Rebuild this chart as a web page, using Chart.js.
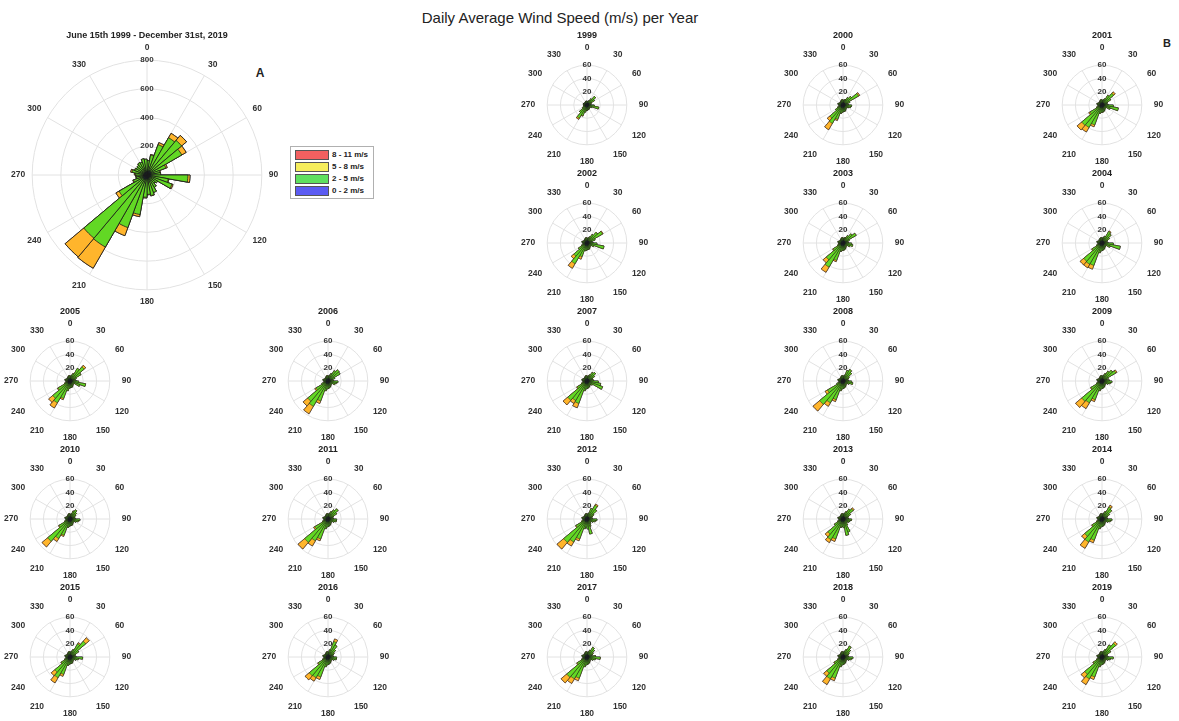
<!DOCTYPE html>
<html>
<head>
<meta charset="utf-8">
<script src="https://cdn.jsdelivr.net/npm/chart.js@4.4.1/dist/chart.umd.min.js"></script>
<style>
body { margin: 0; background: #fff; width: 1179px; height: 721px; position: relative; overflow: hidden; font-family: 'Liberation Sans', Arial, sans-serif; color: #222; }
canvas.rose { position: absolute; }
.ttl { position: absolute; font-weight: bold; font-size: 9px; transform: translate(-50%, -50%); white-space: nowrap; }
#mainTitle { position: absolute; left: 560px; top: 17px; transform: translate(-50%, -50%); font-size: 15px; white-space: nowrap; }
.tag { position: absolute; font-weight: bold; font-size: 12px; transform: translate(-50%, -50%); }
#legend { position: absolute; left: 290px; top: 146px; width: 82px; height: 51px; border: 1px solid #b0b0b0; background: #fff; }
#legend div { position: absolute; left: 4px; font-size: 8px; font-weight: bold; line-height: 9px; white-space: nowrap; }
#legend span { display: inline-block; width: 32px; height: 8px; border: 1px solid #555; margin-right: 3px; vertical-align: middle; }
</style>
</head>
<body>
<div id="mainTitle">Daily Average Wind Speed (m/s) per Year</div>
<div class="tag" style="left:260px; top:73px;">A</div>
<div class="tag" style="left:1167px; top:43px; font-size:11px;">B</div>
<div id="legend"></div>
<script>
// 风向区间（每10度一个扇区）
const directions = [0, 10, 20, 30, 40, 50, 60, 70, 80, 90, 100, 110, 120, 130, 140, 150, 160, 170,
    180, 190, 200, 210, 220, 230, 240, 250, 260, 270, 280, 290, 300, 310, 320, 330, 340, 350];

// 第一个是汇总图，其余是每年
const years = ['June 15th 1999 - December 31st, 2019', '1999', '2000', '2001', '2002', '2003', '2004',
    '2005', '2006', '2007', '2008', '2009', '2010', '2011', '2012', '2013', '2014',
    '2015', '2016', '2017', '2018', '2019'];

const speedClasses = ['0 - 2 m/s', '2 - 5 m/s', '5 - 8 m/s', '8 - 11 m/s'];

// 0 - 2 m/s
const calm = [
    [20,20,25,30,30,30, 25,20,20,25,25,25, 20,20,20,20,25,25, 25,25,30,30,30,30, 25,20,20,20,20,20, 20,20,20,20,20,20],
    [2,2,2,3,3,3, 2,2,2,3,3,2, 2,2,2,2,2,2, 2,3,3,3,3,2, 2,2,2,2,2,2, 2,2,2,2,2,2],
    [3,3,3,3,3,3, 3,2,3,3,3,3, 2,2,3,3,3,3, 3,3,4,4,4,3, 3,2,2,3,3,2, 2,2,2,3,3,3],
    [3,3,3,3,3,3, 3,3,3,3,3,3, 2,2,3,3,3,3, 3,3,4,4,4,3, 3,2,2,3,3,2, 2,2,2,3,3,3],
    [3,3,3,3,3,3, 3,2,3,3,3,3, 2,2,3,3,3,3, 3,3,4,4,4,3, 3,2,2,3,3,2, 2,2,2,3,3,3],
    [3,3,3,3,4,3, 3,2,3,3,3,3, 2,2,3,3,3,3, 3,3,4,4,4,3, 3,3,2,3,3,2, 2,2,2,3,3,3],
    [3,3,3,3,3,3, 3,2,3,3,3,3, 2,3,3,3,3,3, 3,3,4,4,4,3, 3,2,2,3,3,2, 2,2,3,3,3,3],
    [3,3,3,3,3,3, 3,2,3,3,3,3, 2,2,3,3,3,3, 3,3,4,4,4,3, 3,2,2,3,3,2, 2,2,2,3,3,3],
    [3,3,3,4,3,3, 3,2,3,3,3,3, 2,2,3,3,3,3, 3,3,4,4,4,3, 3,2,2,3,3,2, 2,2,2,3,3,3],
    [3,3,3,3,3,3, 3,3,3,3,3,3, 2,2,3,3,3,3, 3,3,4,4,4,3, 3,2,2,3,3,3, 2,2,2,3,3,3],
    [3,3,3,3,3,3, 3,2,3,3,3,3, 2,2,3,3,3,3, 3,3,4,4,4,3, 3,2,2,3,3,2, 2,2,2,3,3,3],
    [3,3,3,3,3,3, 3,2,3,3,3,3, 2,2,3,3,3,3, 3,3,4,4,4,3, 3,2,2,3,3,2, 2,2,2,3,3,3],
    [3,3,3,3,3,3, 3,2,3,3,3,3, 2,2,3,3,3,3, 3,3,4,4,4,3, 3,2,2,3,3,2, 2,2,2,3,3,3],
    [3,3,3,3,3,3, 3,2,3,3,3,3, 2,2,3,3,3,3, 3,3,4,4,4,3, 3,2,2,3,3,2, 2,2,2,3,3,3],
    [3,3,3,3,3,3, 3,2,3,3,3,3, 2,2,3,3,3,3, 3,3,4,4,4,3, 3,2,2,3,3,2, 2,2,2,3,3,3],
    [3,3,3,3,3,3, 3,2,3,3,3,3, 2,2,3,3,3,3, 3,3,4,4,4,3, 3,2,2,3,3,2, 2,2,2,3,3,3],
    [3,3,3,3,3,3, 3,2,3,3,3,3, 2,2,3,3,3,3, 3,3,4,4,4,3, 3,2,2,3,3,2, 2,2,2,3,3,3],
    [3,3,3,3,3,3, 3,2,3,3,3,3, 2,2,3,3,3,3, 3,3,4,4,4,3, 3,2,2,3,3,2, 2,2,2,3,3,3],
    [3,3,3,3,3,3, 3,2,3,3,3,3, 2,2,3,3,3,3, 3,3,4,4,4,3, 3,2,2,3,3,2, 2,2,2,3,3,3],
    [3,3,3,3,3,3, 3,2,3,3,3,3, 2,2,3,3,3,3, 3,3,4,4,4,3, 3,2,2,3,3,2, 2,2,2,3,3,3],
    [3,3,3,3,3,3, 3,2,3,3,3,3, 2,2,3,3,3,3, 3,3,4,4,4,3, 3,2,2,3,3,2, 2,2,2,3,3,3],
    [3,3,3,3,3,3, 3,2,3,3,3,3, 2,2,3,3,3,3, 3,3,4,4,4,3, 3,2,2,3,3,2, 2,2,2,3,3,3]
];

// 2 - 5 m/s
const light = [
    [80,120,200,270,285,250, 115,70,75,260,125,160, 65,55,80,110,120,110, 130,255,360,550,545,195, 75,55,55,60,85,70, 65,70,80,75,95,90],
    [3,4,5,8,14,10, 5,3,4,8,15,6, 4,3,4,5,5,6, 6,8,14,20,12,6, 4,3,3,3,4,3, 3,2,3,3,4,4],
    [4,5,6,10,14,24, 8,4,5,10,9,6, 5,4,5,6,7,7, 8,10,19,28,22,10, 6,4,4,4,5,4, 4,3,4,4,5,5],
    [4,5,7,14,20,12, 6,4,6,14,22,10, 5,4,5,6,7,8, 8,10,28,35,36,18, 6,4,4,4,5,4, 4,3,4,4,5,5],
    [4,5,7,12,18,24, 10,5,6,12,23,8, 5,4,5,6,7,7, 8,9,18,32,22,12, 6,4,4,4,5,4, 4,3,4,4,5,5],
    [4,5,6,10,14,20, 7,4,5,10,12,8, 5,4,5,6,7,8, 8,10,24,38,29,14, 6,4,4,4,5,4, 4,3,4,4,5,5],
    [4,6,8,17,15,10, 6,4,6,14,25,10, 5,4,5,6,7,8, 9,12,32,33,32,14, 6,4,4,4,5,4, 4,3,4,4,5,5],
    [4,6,9,19,25,16, 7,4,6,10,21,13, 5,4,5,6,7,7, 8,12,24,34,30,18, 6,4,4,4,5,4, 4,3,4,4,5,5],
    [4,6,9,14,19,18, 8,4,5,12,10,8, 5,4,5,6,7,8, 9,12,28,40,36,18, 7,4,4,4,5,4, 4,3,4,4,5,5],
    [4,5,7,12,14,10, 6,5,7,14,18,22, 8,5,5,6,7,8, 9,12,32,30,34,14, 6,4,4,4,5,4, 4,3,4,4,5,5],
    [4,6,14,17,14,8, 6,4,5,10,12,7, 5,4,5,6,7,8, 9,12,26,34,42,24, 7,4,4,4,5,4, 4,3,4,4,5,5],
    [4,6,9,14,18,21, 7,5,8,12,10,7, 5,4,5,6,7,8, 9,12,26,34,36,16, 6,4,4,4,5,4, 4,3,4,4,5,5],
    [4,5,10,13,10,7, 5,4,5,12,10,7, 5,4,5,6,7,7, 8,10,22,30,40,16, 6,4,4,4,5,4, 4,3,4,4,5,5],
    [4,6,9,13,17,12, 6,4,5,10,10,7, 5,4,5,6,7,8, 9,12,28,34,42,20, 6,4,4,4,5,4, 4,3,4,4,5,5],
    [4,6,14,21,16,9, 6,4,5,12,10,7, 5,5,6,9,20,12, 9,12,28,36,42,16, 6,4,4,4,5,4, 4,3,4,4,5,5],
    [4,6,9,14,17,10, 6,4,5,10,8,7, 6,6,8,18,22,10, 8,10,28,32,26,12, 6,4,4,4,5,4, 4,3,4,4,5,5],
    [4,6,9,18,16,10, 6,4,5,12,10,7, 5,4,5,6,7,8, 9,12,30,36,30,14, 6,4,4,4,5,4, 4,3,4,4,5,5],
    [4,6,9,20,28,12, 6,4,6,16,10,7, 5,4,5,6,7,7, 8,10,24,32,26,12, 6,4,4,4,5,4, 4,3,4,4,5,5],
    [4,8,22,18,12,8, 6,4,5,10,10,7, 5,4,5,6,7,8, 9,12,28,32,33,14, 6,4,4,4,5,4, 4,3,4,4,5,5],
    [4,5,8,14,12,8, 6,5,10,17,10,7, 5,4,5,6,7,8, 9,12,30,34,36,14, 6,4,4,4,5,4, 4,3,4,4,5,5],
    [4,6,9,16,12,8, 6,4,5,12,10,7, 5,4,5,6,7,8, 9,12,30,34,28,12, 6,4,4,4,5,4, 4,3,4,4,5,5],
    [4,6,9,18,24,12, 6,4,6,14,10,7, 5,4,5,6,7,8, 9,12,28,34,30,12, 6,4,4,4,5,4, 4,3,4,4,5,5]
];

// 5 - 8 m/s
const moderate = [
    [0,5,15,35,45,35, 10,5,0,15,5,8, 0,0,0,0,3,3, 5,15,60,170,170,25, 5,3,5,8,10,3, 0,0,0,0,0,0],
    [0,0,0,0,0,0, 0,0,0,0,0,0, 0,0,0,0,0,0, 0,0,1,2,0,0, 0,0,0,0,0,0, 0,0,0,0,0,0],
    [0,0,0,0,0,2, 0,0,0,0,0,0, 0,0,0,0,0,0, 0,0,2,11,5,0, 0,0,0,0,0,0, 0,0,0,0,0,0],
    [0,0,0,0,3,0, 0,0,0,0,0,0, 0,0,0,0,0,0, 0,0,3,8,9,2, 0,0,0,0,0,0, 0,0,0,0,0,0],
    [0,0,0,0,0,1, 0,0,0,0,0,0, 0,0,0,0,0,0, 0,0,4,8,5,0, 0,0,0,0,0,0, 0,0,0,0,0,0],
    [0,0,0,0,0,0, 0,0,0,0,0,0, 0,0,0,0,0,0, 0,0,2,9,6,1, 0,0,0,0,0,0, 0,0,0,0,0,0],
    [0,0,0,1,0,0, 0,0,0,0,0,0, 0,0,0,0,0,0, 0,0,6,6,7,1, 0,0,0,0,0,0, 0,0,0,0,0,0],
    [0,0,0,0,3,0, 0,0,0,0,0,0, 0,0,0,0,0,0, 0,0,2,9,8,1, 0,0,0,0,0,0, 0,0,0,0,0,0],
    [0,0,0,0,0,0, 0,0,0,0,0,0, 0,0,0,0,0,0, 0,0,4,13,9,2, 0,0,0,0,0,0, 0,0,0,0,0,0],
    [0,0,0,0,0,0, 0,0,0,0,0,0, 0,0,0,0,0,0, 0,0,7,5,9,1, 0,0,0,0,0,0, 0,0,0,0,0,0],
    [0,0,0,0,0,0, 0,0,0,0,0,0, 0,0,0,0,0,0, 0,0,3,6,13,4, 0,0,0,0,0,0, 0,0,0,0,0,0],
    [0,0,0,0,0,2, 0,0,0,0,0,0, 0,0,0,0,0,0, 0,0,3,10,12,1, 0,0,0,0,0,0, 0,0,0,0,0,0],
    [0,0,0,0,0,0, 0,0,0,0,0,0, 0,0,0,0,0,0, 0,0,2,5,11,1, 0,0,0,0,0,0, 0,0,0,0,0,0],
    [0,0,0,0,0,0, 0,0,0,0,0,0, 0,0,0,0,0,0, 0,0,3,9,13,2, 0,0,0,0,0,0, 0,0,0,0,0,0],
    [0,0,0,2,0,0, 0,0,0,0,0,0, 0,0,0,0,0,0, 0,0,3,7,13,1, 0,0,0,0,0,0, 0,0,0,0,0,0],
    [0,0,0,0,2,0, 0,0,0,0,0,0, 0,0,0,0,0,0, 0,0,4,5,5,0, 0,0,0,0,0,0, 0,0,0,0,0,0],
    [0,0,0,3,0,0, 0,0,0,0,0,0, 0,0,0,0,0,0, 0,0,4,11,6,1, 0,0,0,0,0,0, 0,0,0,0,0,0],
    [0,0,0,2,7,0, 0,0,0,0,0,0, 0,0,0,0,0,0, 0,0,3,9,7,1, 0,0,0,0,0,0, 0,0,0,0,0,0],
    [0,0,4,0,0,0, 0,0,0,0,0,0, 0,0,0,0,0,0, 0,0,4,6,8,1, 0,0,0,0,0,0, 0,0,0,0,0,0],
    [0,0,0,0,0,0, 0,0,0,0,0,0, 0,0,0,0,0,0, 0,0,4,8,11,1, 0,0,0,0,0,0, 0,0,0,0,0,0],
    [0,0,0,0,0,0, 0,0,0,0,0,0, 0,0,0,0,0,0, 0,0,4,10,6,1, 0,0,0,0,0,0, 0,0,0,0,0,0],
    [0,0,0,0,3,0, 0,0,0,0,0,0, 0,0,0,0,0,0, 0,0,4,10,7,1, 0,0,0,0,0,0, 0,0,0,0,0,0]
];

// 8 - 11 m/s（图上看不到，全为0）
const strong = [
    [0,0,0,0,0,0, 0,0,0,0,0,0, 0,0,0,0,0,0, 0,0,0,0,0,0, 0,0,0,0,0,0, 0,0,0,0,0,0]
];

// 扇区颜色（画图用）和图例颜色
const fillColors = ['#1e4a6a', '#62d824', '#ffb52c', '#f04040'];
const legendColors = ['#5b5bf2', '#5fe05f', '#f6ee5c', '#f26060'];

// 每个玫瑰图的中心位置
const roseCenters = [
    [147, 175],
    [587, 105], [843, 105], [1102, 105],
    [587, 243], [843, 243], [1102, 243],
    [70, 381], [328, 381], [587, 381], [843, 381], [1102, 381],
    [70, 519], [328, 519], [587, 519], [843, 519], [1102, 519],
    [70, 657], [328, 657], [587, 657], [843, 657], [1102, 657]
];

Chart.defaults.font.family = "'Liberation Sans', Arial, sans-serif";
Chart.defaults.color = '#333';

// 累加各风速等级，做成叠加效果
function stackLayers(k) {
    const layers = [calm[k], light[k], moderate[k], strong[k] || strong[0]];
    let run = directions.map(() => 0);
    return layers.map(layer => {
        run = run.map((v, i) => v + layer[i]);
        return run;
    });
}

function drawRose(k) {
    const big = k === 0;
    const size = big ? 272 : 132;
    const [cx, cy] = roseCenters[k];

    const canvas = document.createElement('canvas');
    canvas.className = 'rose';
    canvas.width = size;
    canvas.height = size;
    canvas.style.left = (cx - size / 2 - 2) + 'px';
    canvas.style.top = (cy - size / 2) + 'px';
    document.body.appendChild(canvas);

    const title = document.createElement('div');
    title.className = 'ttl';
    title.textContent = years[k];
    title.style.left = cx + 'px';
    title.style.top = (big ? 35 : cy - 70) + 'px';
    document.body.appendChild(title);

    const stacked = stackLayers(k);

    new Chart(canvas, {
        type: 'polarArea',
        data: {
            labels: directions,
            datasets: stacked.map((data, j) => ({
                label: speedClasses[j],
                data: data,
                backgroundColor: fillColors[j],
                borderColor: '#1b1b1b',
                borderWidth: big ? 0.8 : 0.5
            }))
        },
        options: {
            responsive: false,
            animation: false,
            events: [],
            layout: { padding: 0 },
            plugins: {
                legend: { display: false },
                tooltip: { enabled: false }
            },
            scales: {
                r: {
                    min: 0,
                    max: big ? 800 : 60,
                    startAngle: 0,
                    ticks: {
                        stepSize: big ? 200 : 20,
                        showLabelBackdrop: false,
                        color: '#333',
                        font: { size: 8, weight: 'bold' }
                    },
                    grid: { circular: true, color: '#e2e2e2', lineWidth: 1 },
                    angleLines: {
                        display: true,
                        color: '#e2e2e2',
                        lineWidth: ctx => ctx.index % 3 === 0 ? 1 : 0
                    },
                    pointLabels: {
                        display: true,
                        centerPointLabels: false,
                        padding: big ? 1 : 6,
                        color: '#333',
                        font: { size: 8.5, weight: 'bold' },
                        callback: (label, i) => i % 3 === 0 ? String(label) : ''
                    }
                }
            }
        }
    });
}

years.forEach((y, k) => drawRose(k));

// 图例（从大到小）
const legend = document.getElementById('legend');
for (let j = speedClasses.length - 1; j >= 0; j--) {
    const row = document.createElement('div');
    row.style.top = (3 + (3 - j) * 12) + 'px';
    row.innerHTML = '<span style="background:' + legendColors[j] + '"></span>' + speedClasses[j];
    legend.appendChild(row);
}
</script>
</body>
</html>
